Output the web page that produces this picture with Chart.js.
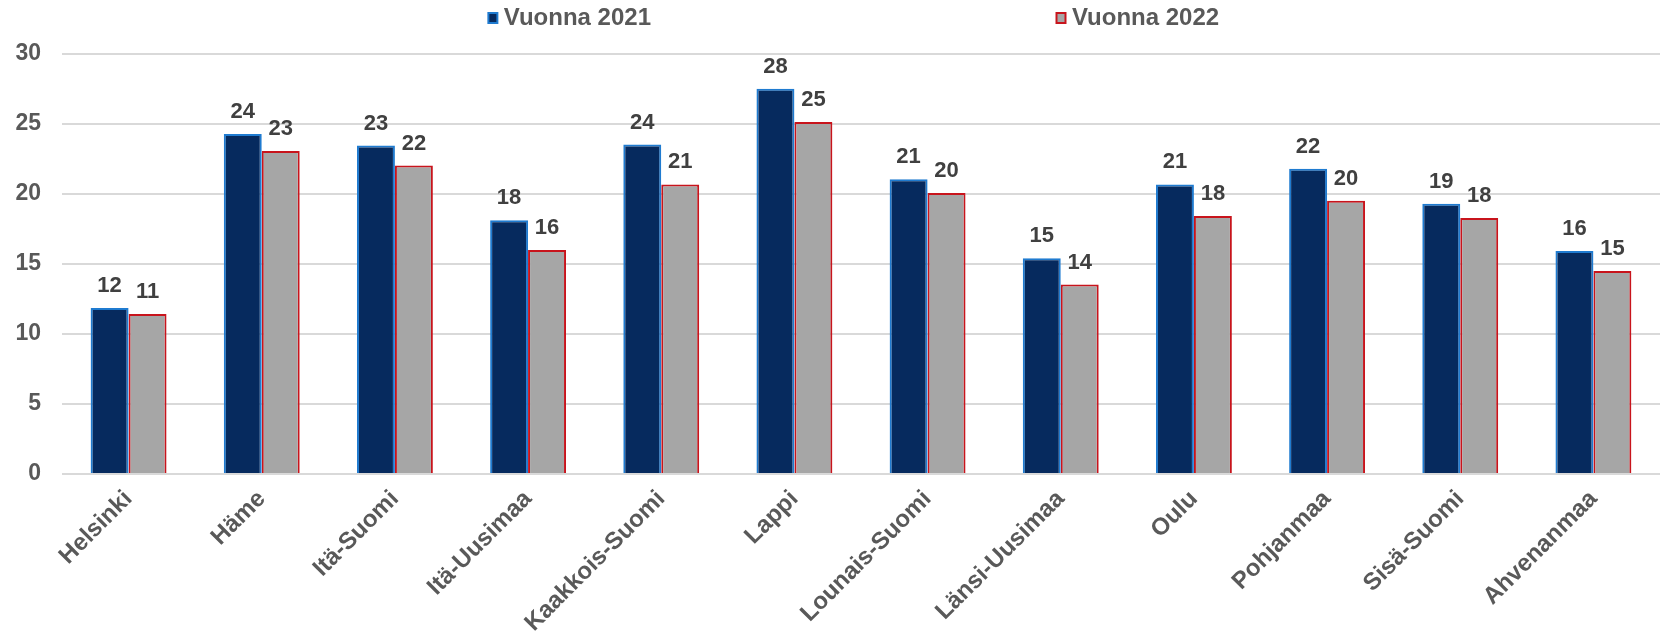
<!DOCTYPE html>
<html><head><meta charset="utf-8">
<script src="https://cdn.jsdelivr.net/npm/chart.js@4.4.0/dist/chart.umd.min.js"></script>
<style>html,body{margin:0;padding:0;background:#fff;}#wrap{width:1660px;height:636px;position:relative;}</style>
</head><body><div id="wrap"><canvas id="c"></canvas></div>
<script>
const categories = ['Helsinki','Häme','Itä-Suomi','Itä-Uusimaa','Kaakkois-Suomi','Lappi','Lounais-Suomi','Länsi-Uusimaa','Oulu','Pohjanmaa','Sisä-Suomi','Ahvenanmaa'];
const values2021 = [11.86, 24.29, 23.46, 18.12, 23.53, 27.52, 21.05, 15.41, 20.68, 21.8, 19.3, 15.93];
const values2022 = [11.43, 23.08, 22.03, 16.0, 20.68, 25.14, 20.08, 13.53, 18.42, 19.52, 18.29, 14.5];
const seriesNames = ['Vuonna 2021', 'Vuonna 2022'];
const yMin = 0, yMax = 30, yStep = 5;

const FONT = "'Liberation Sans', Arial, sans-serif";
const LEG_PAD = 408;
const fills = ['#062a5e', '#a6a6a6'];
const borders = ['#1f7bd0', '#c8141c'];

function makeBox(fill, stroke) {
  const c = document.createElement('canvas');
  c.width = 22; c.height = 12;
  const g = c.getContext('2d');
  g.fillStyle = stroke;
  g.fillRect(7, 0, 11, 12);
  g.fillStyle = fill;
  g.fillRect(9, 2, 7, 8);
  return c;
}
const legendBoxes = [makeBox(fills[0], borders[0]), makeBox(fills[1], borders[1])];

const valueLabels = {
  id: 'valueLabels',
  afterDatasetsDraw(chart) {
    const ctx = chart.ctx;
    ctx.save();
    ctx.font = "bold 22px " + FONT;
    ctx.fillStyle = '#404040';
    ctx.textAlign = 'center';
    ctx.textBaseline = 'alphabetic';
    chart.data.datasets.forEach((ds, i) => {
      chart.getDatasetMeta(i).data.forEach((el, j) => {
        ctx.fillText(String(Math.round(ds.data[j])), el.x, el.y - 16);
      });
    });
    ctx.restore();
  }
};

const legendPlace = {
  id: 'legendPlace',
  afterLayout(chart) {
    const lg = chart.legend;
    lg.top = 6 - LEG_PAD;
    lg.left += 25;
    lg.right += 25;
  }
};

new Chart(document.getElementById('c'), {
  type: 'bar',
  data: {
    labels: categories,
    datasets: [
      { label: seriesNames[0], data: values2021, backgroundColor: fills[0], borderColor: borders[0], borderWidth: 2 },
      { label: seriesNames[1], data: values2022, backgroundColor: fills[1], borderColor: borders[1], borderWidth: 2 }
    ]
  },
  options: {
    responsive: true,
    maintainAspectRatio: false,
    animation: false,
    layout: { padding: 0 },
    datasets: { bar: { categoryPercentage: 0.57, barPercentage: 1.0 } },
    plugins: {
      legend: {
        position: 'top',
        maxHeight: 54,
        labels: {
          usePointStyle: true,
          boxWidth: 1, boxHeight: 12, padding: LEG_PAD,
          color: '#595959',
          font: { family: FONT, size: 24, weight: 'bold' },
          generateLabels(chart) {
            const items = Chart.defaults.plugins.legend.labels.generateLabels(chart);
            items.forEach((it, i) => { it.pointStyle = legendBoxes[i]; });
            return items;
          }
        }
      },
      tooltip: { enabled: false }
    },
    scales: {
      x: {
        grid: { display: false, drawTicks: false },
        border: { display: false },
        ticks: {
          autoSkip: false, maxRotation: 45, minRotation: 45, padding: 11,
          color: '#595959', font: { family: FONT, size: 24, weight: 'bold' }
        },
        afterFit(s) { s.height = 162; }
      },
      y: {
        min: yMin, max: yMax,
        grid: { color: '#d9d9d9', lineWidth: 2, drawTicks: false },
        border: { display: false },
        ticks: {
          stepSize: yStep, padding: 21,
          color: '#595959', font: { family: FONT, size: 23, weight: 'bold' }
        },
        afterFit(s) { s.width = 62; }
      }
    }
  },
  plugins: [valueLabels, legendPlace]
});
</script></body></html>
